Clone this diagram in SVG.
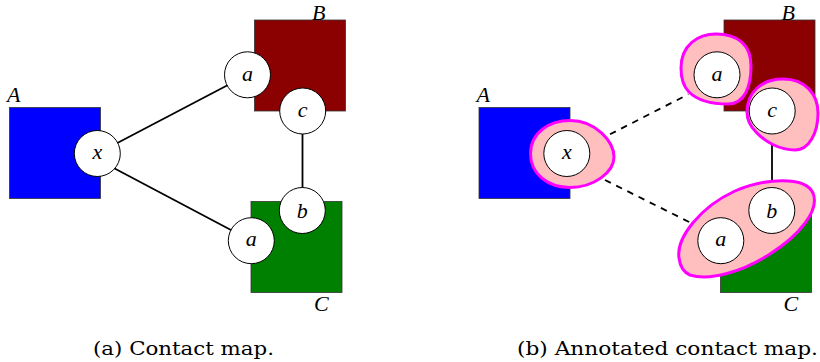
<svg xmlns="http://www.w3.org/2000/svg" width="820" height="362" viewBox="0 0 820 362">
<style>
.box{stroke:#333;stroke-width:0.8}
.circ{fill:#fff;stroke:#000;stroke-width:1}
.edge{stroke:#000;stroke-width:1.8;fill:none}
.dash{stroke-dasharray:6.5 6}
.blob{fill:#ffbfbf;stroke:#ff00ff;stroke-width:3}
.m{font-family:"Liberation Serif",serif;font-style:italic;font-size:22px;fill:#000}
.mc{font-family:"Liberation Serif",serif;font-style:italic;font-size:22px;fill:#000;text-anchor:middle}
.cap{font-family:"DejaVu Serif",serif;font-size:19px;fill:#000}
</style>
<rect width="820" height="362" fill="#fff"/>
<!-- Panel (a) -->
<g id="a-A"><rect class="box" x="9.5" y="107.5" width="91" height="91" fill="#0000ff"/><text class="m" x="7" y="102">A</text></g>
<g id="a-B"><rect class="box" x="254.5" y="20" width="91" height="91" fill="#8b0000"/><text class="m" x="312" y="19.5">B</text></g>
<g id="a-C"><rect class="box" x="251" y="201.5" width="91" height="91" fill="#008000"/><text class="m" x="314" y="311">C</text></g>
<g id="a-edges">
<line class="edge" x1="97.3" y1="153.5" x2="247.5" y2="74.8"/>
<line class="edge" x1="100" y1="160.7" x2="251.3" y2="240.7"/>
<line class="edge" x1="302.5" y1="111" x2="302.5" y2="210.5"/>
</g>
<g id="a-x"><circle class="circ" cx="97.3" cy="153.5" r="23"/><text class="mc" x="97.3" y="159">x</text></g>
<g id="a-a1"><circle class="circ" cx="247.5" cy="74.8" r="23"/><text class="mc" x="247.5" y="80.5">a</text></g>
<g id="a-c"><circle class="circ" cx="302.7" cy="111" r="23"/><text class="mc" x="302.7" y="116.7">c</text></g>
<g id="a-b"><circle class="circ" cx="302.3" cy="210.5" r="23"/><text class="mc" x="302.3" y="217.5">b</text></g>
<g id="a-a2"><circle class="circ" cx="251.3" cy="240.7" r="23"/><text class="mc" x="251.3" y="246.4">a</text></g>
<!-- Panel (b) -->
<g id="b-A"><rect class="box" x="479" y="107.5" width="91" height="91" fill="#0000ff"/><text class="m" x="476.5" y="102">A</text></g>
<g id="b-B"><rect class="box" x="724" y="20" width="91" height="91" fill="#8b0000"/><text class="m" x="781.5" y="19.5">B</text></g>
<g id="b-C"><rect class="box" x="720.5" y="201.5" width="91" height="91" fill="#008000"/><text class="m" x="783.5" y="311">C</text></g>
<g id="b-edges">
<line class="edge dash" x1="610" y1="134.3" x2="688.3" y2="94.3"/>
<line class="edge dash" x1="605" y1="180" x2="691.7" y2="223.3"/>
<line class="edge" x1="772" y1="111" x2="772" y2="210.5"/>
</g>
<g id="b-blob-x"><path class="blob" d="M 530.5,154 C 530.5,132 550,120.5 570,120.5 C 596,120.5 614,142 614,157 C 614,172 594,187.5 570,187.5 C 548,187.5 530.5,174 530.5,154 Z"/></g>
<g id="b-blob-a"><path class="blob" d="M 681,68 C 681,45 698,34 716,34 C 738,34 751,45 751,66 C 751,86 745,104 728,104 C 712,104 697,100 689,92 C 683,86 681,78 681,68 Z"/></g>
<g id="b-blob-c"><path class="blob" d="M 747,112 C 747,92 762,79 783,79 C 805,79 818,94 818,113 C 818,133 809,150 795,150 C 780,150 765,142 756,132 C 749,125 747,119 747,112 Z"/></g>
<g id="b-blob-ab"><path class="blob" d="M 679,258 C 676,238 700,207 735,191 C 765,178 805,176 813,193 C 820,210 800,235 770,254 C 742,272 710,281 690,275 C 683,272 680,266 679,258 Z"/></g>
<g id="b-x"><circle class="circ" cx="566.8" cy="153.5" r="23"/><text class="mc" x="566.8" y="159">x</text></g>
<g id="b-a1"><circle class="circ" cx="717" cy="74.8" r="23"/><text class="mc" x="717" y="80.5">a</text></g>
<g id="b-c"><circle class="circ" cx="772.2" cy="111" r="23"/><text class="mc" x="772.2" y="116.7">c</text></g>
<g id="b-b"><circle class="circ" cx="771.8" cy="210.5" r="23"/><text class="mc" x="771.8" y="217.5">b</text></g>
<g id="b-a2"><circle class="circ" cx="720.8" cy="240.7" r="23"/><text class="mc" x="720.8" y="246.4">a</text></g>
<!-- Captions -->
<text class="cap" x="93" y="355" textLength="181" lengthAdjust="spacingAndGlyphs">(a) Contact map.</text>
<text class="cap" x="517" y="355" textLength="301" lengthAdjust="spacingAndGlyphs">(b) Annotated contact map.</text>
</svg>
